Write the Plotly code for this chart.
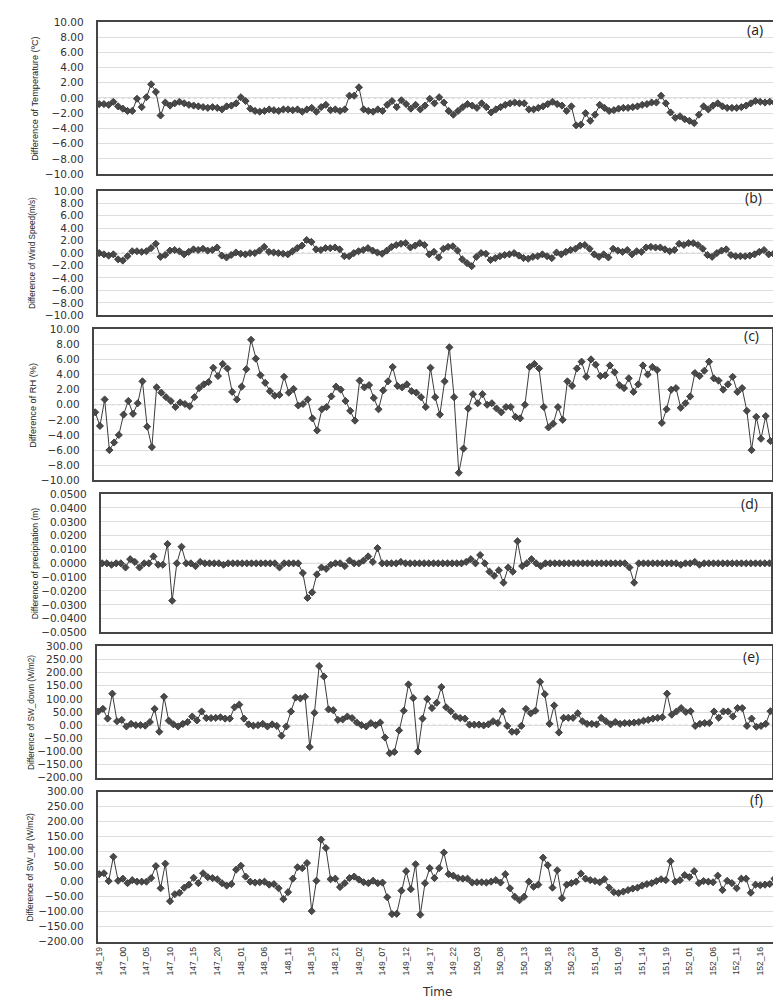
import plotly.graph_objects as go

# hourly time stamps (day_hour); the 152_00 record is missing in the source data
days_hours = [(146, h) for h in range(19, 24)] + \
             [(d, h) for d in range(147, 152) for h in range(24)] + \
             [(152, h) for h in range(1, 20)]
times = ["%d_%02d" % (d, h) for d, h in days_hours]
tick_labels = times[::5]

temp_diff = [-0.8, -0.8, -0.9, -0.5, -1.1, -1.4, -1.7, -1.7, -0.1, -1.2,
             0.1, 1.8, 0.8, -2.3, -0.6, -1.0, -0.7, -0.5, -0.7, -0.9,
             -1.0, -1.1, -1.2, -1.3, -1.2, -1.3, -1.5, -1.1, -1.0, -0.7,
             0.1, -0.4, -1.4, -1.7, -1.8, -1.7, -1.5, -1.6, -1.7, -1.5,
             -1.5, -1.6, -1.5, -1.8, -1.5, -1.3, -1.8, -1.2, -0.9, -1.6,
             -1.5, -1.7, -1.5, 0.3, 0.3, 1.4, -1.5, -1.7, -1.8, -1.5,
             -1.7, -0.9, -0.4, -1.2, -0.3, -0.8, -1.4, -0.9, -1.5, -1.0,
             -0.1, -0.7, 0.1, -0.6, -1.7, -2.2, -1.7, -1.2, -0.8, -1.0,
             -1.3, -0.7, -1.2, -1.9, -1.5, -1.2, -0.9, -0.7, -0.6, -0.7,
             -0.7, -1.5, -1.5, -1.3, -1.1, -0.8, -0.5, -0.8, -1.0, -1.7,
             -1.1, -3.6, -3.5, -2.0, -3.0, -2.2, -0.9, -1.3, -1.7, -1.6,
             -1.4, -1.3, -1.3, -1.2, -1.1, -0.9, -0.8, -0.6, -0.6, 0.3,
             -0.7, -1.9, -2.6, -2.4, -2.8, -3.0, -3.3, -2.2, -1.1, -1.5,
             -1.0, -0.7, -1.1, -1.3, -1.3, -1.3, -1.2, -1.0, -0.7, -0.4,
             -0.5, -0.6, -0.5, -0.6]

wind_diff = [0.0, -0.2, -0.4, -0.2, -1.0, -1.2, -0.5, 0.3, 0.3, 0.2,
             0.3, 0.8, 1.5, -0.6, -0.3, 0.4, 0.5, 0.3, -0.2, 0.2,
             0.6, 0.5, 0.7, 0.4, 0.5, 0.9, -0.4, -0.7, -0.3, 0.1,
             -0.1, -0.2, 0.0, 0.0, 0.4, 1.0, 0.2, 0.1, 0.0, -0.1,
             -0.2, 0.3, 0.8, 1.2, 2.1, 1.8, 0.6, 0.5, 0.8, 0.8,
             0.9, 0.6, -0.5, -0.5, 0.0, 0.3, 0.5, 0.8, 0.4, 0.1,
             -0.1, 0.4, 1.0, 1.3, 1.5, 1.6, 0.9, 1.2, 1.6, 1.3,
             -0.2, 0.2, -0.7, 0.7, 1.0, 1.1, 0.4, -1.0, -1.6, -2.1,
             -0.6, 0.0, -0.1, -1.1, -0.8, -0.5, -0.3, -0.2, 0.0, -0.4,
             -0.8, -0.9, -0.6, -0.5, -0.2, -0.5, -0.8, 0.1, -0.2, 0.2,
             0.5, 0.7, 1.2, 1.3, 0.7, -0.2, -0.6, -0.2, -0.7, 0.7,
             0.4, 0.2, 0.5, -0.2, 0.3, 0.2, 0.9, 1.0, 0.9, 0.9,
             0.6, 0.3, 0.5, 1.5, 1.3, 1.6, 1.6, 1.3, 0.7, -0.3,
             -0.6, 0.0, 0.4, 0.6, -0.3, -0.5, -0.5, -0.5, -0.4, -0.2,
             0.2, 0.5, -0.2, -0.1]

rh_diff = [-1.0, -2.8, 0.7, -6.0, -5.0, -4.0, -1.3, 0.5, -1.2, 0.2,
           3.1, -2.9, -5.6, 2.3, 1.6, 1.0, 0.5, -0.3, 0.3, 0.1,
           -0.2, 1.0, 2.2, 2.7, 3.0, 4.9, 3.8, 5.4, 4.8, 1.7,
           0.7, 2.4, 4.7, 8.6, 6.1, 3.9, 2.9, 1.8, 1.2, 1.3,
           3.7, 1.6, 2.1, -0.1, 0.1, 0.7, -1.8, -3.4, -0.6, -0.3,
           1.1, 2.4, 2.0, 0.5, -0.8, -2.1, 3.2, 2.3, 2.6, 0.9,
           -0.6, 1.9, 3.1, 5.0, 2.5, 2.3, 2.7, 1.8, 1.6, 1.0,
           -0.3, 4.9, 1.0, -1.3, 3.1, 7.6, 1.0, -9.0, -5.8, -0.5,
           1.4, 0.2, 1.4, 0.0, 0.2, -0.5, -1.0, -0.3, -0.3, -1.6,
           -1.8, 0.0, 5.0, 5.4, 4.8, -0.3, -3.0, -2.5, -0.3, -2.0,
           3.1, 2.5, 4.8, 5.7, 3.7, 6.0, 5.3, 3.8, 3.9, 5.2,
           4.3, 2.6, 2.2, 3.5, 1.7, 2.7, 5.2, 4.0, 5.0, 4.6,
           -2.4, -0.6, 2.0, 2.2, -0.4, 0.2, 1.1, 4.2, 3.8, 4.5,
           5.7, 3.5, 3.2, 2.0, 2.7, 3.7, 1.7, 2.2, -0.8, -6.0,
           -1.6, -4.5, -1.5, -4.8]

precip_diff = [0, 0, -0.001, 0, 0, -0.003, 0.003, 0.001, -0.003, 0,
               0, 0.005, -0.001, -0.001, 0.014, -0.027, 0, 0.012, 0, 0,
               -0.002, 0.001, 0, 0, 0, 0, -0.001, 0, 0, 0,
               0, 0, 0, 0, 0, 0, 0, 0, -0.003, 0,
               0, 0, 0, -0.007, -0.025, -0.021, -0.008, -0.003, -0.004, -0.001,
               0, 0, -0.002, 0.002, 0, 0, 0.002, 0.005, 0.001, 0.011,
               0, 0, 0, 0, 0.001, 0, 0, 0, 0, 0,
               0, 0, 0, 0, 0, 0, 0, 0, 0.001, 0.003,
               0, 0.006, 0, -0.006, -0.009, -0.005, -0.014, -0.003, -0.006, 0.016,
               -0.002, 0, 0.003, 0, -0.002, 0, 0, 0, 0, 0,
               0, 0, 0, 0, 0, 0, 0, 0, 0, 0,
               0, 0, 0, -0.003, -0.014, 0, 0, 0, 0, 0,
               0, 0, 0, 0, -0.001, 0, 0, 0.001, -0.001, 0,
               0, 0, 0, 0, 0, 0, 0, 0, 0, 0,
               0, 0, 0, 0]

swdown_diff = [52, 62, 25, 120, 15, 20, -5, 5, 0, 0,
               -2, 12, 62, -25, 108, 17, 3, -5, 5, 12,
               33, 18, 52, 27, 27, 28, 30, 25, 25, 68,
               78, 25, 3, -2, 0, 5, -5, 3, -3, -40,
               -5, 52, 105, 102, 108, -83, 47, 225, 185, 60,
               57, 20, 22, 33, 27, 10, 0, -5, 8, 0,
               10, -47, -107, -102, -20, 55, 155, 103, -100, 25,
               100, 65, 85, 145, 68, 53, 33, 27, 25, 2,
               2, 2, -1, 3, 15, 8, 53, -3, -25, -25,
               -3, 62, 45, 55, 165, 118, 5, 75, -28, 28,
               28, 28, 45, 15, 5, 5, 3, 28, 15, 3,
               12, 5, 8, 8, 10, 12, 17, 20, 25, 28,
               30, 120, 40, 52, 65, 50, 53, -3, 5, 8,
               8, 52, 28, 52, 52, 33, 65, 65, -3, 25,
               -6, -3, 5, 53]

swup_diff = [25, 28, 2, 83, 3, 10, -5, 5, 0, 0,
             0, 12, 52, -22, 60, -65, -42, -37, -20, -10,
             13, -5, 28, 15, 12, 8, -5, -13, -8, 40,
             53, 17, 0, -3, -2, 0, -10, -8, -22, -58,
             -35, 10, 48, 45, 62, -98, 3, 140, 112, 8,
             10, -18, -5, 12, 17, 7, -2, -5, 3, -5,
             -3, -52, -108, -107, -30, 35, -25, 58, -110, -5,
             45, 12, 45, 97, 25, 20, 12, 10, 10, -3,
             -2, -2, -3, 0, 5, -3, 25, -22, -50, -62,
             -50, 0, -17, -10, 80, 55, -20, 38, -55, -10,
             -5, 0, 27, 10, 5, 2, -2, 8, -20, -35,
             -38, -33, -28, -23, -20, -13, -8, -5, 2, 8,
             5, 68, 0, 5, 22, 15, 35, -5, 2, 0,
             -2, 20, -28, 3, -5, -22, 10, 10, -37, -10,
             -12, -10, -8, 10]

series = [temp_diff, wind_diff, rh_diff, precip_diff, swdown_diff, swup_diff]
y_titles = ["Difference of Temperature (ºC)", "Difference of Wind Speed(m/s)",
            "Difference of RH (%)", "Difference of precipitation (m)",
            "Difference of SW_down (W/m2)", "Difference of SW_up (W/m2)"]
panel_tags = ["(a)", "(b)", "(c)", "(d)", "(e)", "(f)"]
y_ranges = [(-10, 10, 2), (-10, 10, 2), (-10, 10, 2),
            (-0.05, 0.05, 0.01), (-200, 300, 50), (-200, 300, 50)]
y_formats = [".2f", ".2f", ".2f", ".4f", ".2f", ".2f"]

# panel boxes in pixels: left, right, top, bottom
W, H = 781, 1000
boxes = [(86, 768, 8, 162), (86, 767, 179, 305), (82, 764, 319, 472),
         (89, 763, 486, 626), (85, 764, 640, 773), (86, 768, 787, 939)]
title_x = [23, 20, 21, 23, 19, 18]
title_size = [9.2, 8.2, 9.2, 8.5, 8.2, 8.5]
tag_dy = [8, 7, 6, 9, 10, 8]

fig = go.Figure()
layout = dict(width=W, height=H, margin=dict(l=0, r=0, t=0, b=0),
              paper_bgcolor="white", plot_bgcolor="white", showlegend=False)
shapes = []
annotations = []

for k, ys in enumerate(series):
    n = "" if k == 0 else str(k + 1)
    left, right, top, bottom = boxes[k]
    fig.add_trace(go.Scatter(x=times, y=ys, xaxis="x" + n, yaxis="y" + n,
                             mode="lines+markers",
                             line=dict(color="#3c3c3c", width=1),
                             marker=dict(symbol="diamond", size=5.5, color="#4a4a4a",
                                         line=dict(color="#2e2e2e", width=0.8))))
    lo, hi, step = y_ranges[k]
    layout["xaxis" + n] = dict(domain=[left / W, right / W], anchor="y" + n,
                               type="category", categoryorder="array", categoryarray=times,
                               range=[-0.35, len(times) - 1 + 0.35],
                               showgrid=False, zeroline=False, ticks="",
                               showline=True, mirror=True, linecolor="#454545", linewidth=1.5,
                               showticklabels=(k == 5), tickmode="array", tickvals=tick_labels,
                               tickangle=-90,
                               tickfont=dict(family="Liberation Sans", size=8.6, color="#333"))
    layout["yaxis" + n] = dict(domain=[1 - bottom / H, 1 - top / H], anchor="x" + n,
                               range=[lo, hi], tick0=lo, dtick=step, tickformat=y_formats[k],
                               showgrid=True, gridcolor="#dedede", gridwidth=1, zeroline=False,
                               showline=True, mirror=True, linecolor="#454545", linewidth=1.5,
                               ticks="outside", ticklen=10, tickcolor="rgba(0,0,0,0)",
                               tickfont=dict(family="DejaVu Sans", size=10.5, color="#333"))
    # dotted zero line
    shapes.append(dict(type="line", xref="x" + n + " domain", yref="y" + n,
                       x0=0, x1=1, y0=0, y1=0,
                       line=dict(color="#b5b5b5", width=1, dash="dot"), layer="below"))
    annotations.append(dict(text=y_titles[k], textangle=-90, xref="paper", yref="paper",
                            x=title_x[k] / W, y=1 - (top + bottom) / 2 / H,
                            xanchor="center", yanchor="middle", showarrow=False,
                            font=dict(family="Liberation Sans", size=title_size[k], color="#222")))
    annotations.append(dict(text=panel_tags[k], xref="paper", yref="paper",
                            x=(right - 11) / W, y=1 - (top + tag_dy[k]) / H,
                            xanchor="right", yanchor="middle", showarrow=False,
                            font=dict(family="Open Sans", size=14, color="#222")))

annotations.append(dict(text="Time", xref="paper", yref="paper", x=427 / W, y=1 - 990 / H,
                        xanchor="center", yanchor="middle", showarrow=False,
                        font=dict(family="DejaVu Sans", size=12, color="#333")))

layout["shapes"] = shapes
layout["annotations"] = annotations
fig.update_layout(**layout)

fig.write_html("out.html")
